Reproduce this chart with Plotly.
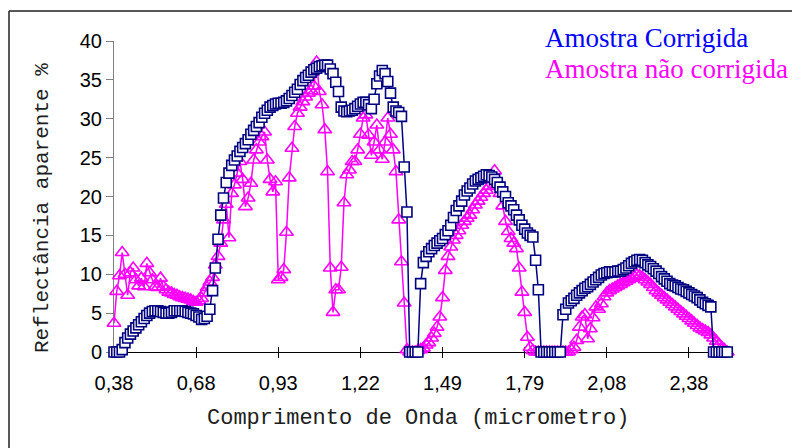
import plotly.graph_objects as go

# Category-axis tick labels (wavelength, micrometres), one label every 30 samples
tick_labels = ["0,38", "0,68", "0,93", "1,22", "1,49", "1,79", "2,08", "2,38"]
tick_step = 30

# Amostra Corrigida (reflectance %)
corrigida = [
    0, 0, 0, 0.3, 1.2, 1.8, 2.3, 2.7, 3.1, 3.5,
    3.9, 4.3, 4.7, 5.0, 5.2, 5.3, 5.3, 5.2, 5.1, 5.0,
    5.0, 5.1, 5.3, 5.3, 5.3, 5.3, 5.2, 5.1, 5.0, 4.9,
    4.7, 4.5, 4.2, 4.3, 4.6, 5.5, 7.9, 10.8, 14.5, 17.6,
    19.8, 21.8, 23.0, 24.0, 24.7, 25.2, 25.8, 26.3, 26.8, 27.3,
    28.0, 28.5, 29.0, 29.5, 30.2, 30.7, 31.1, 31.5, 31.7, 31.9,
    32.0, 32.0, 32.1, 32.3, 32.6, 33.0, 33.4, 33.8, 34.4, 34.9,
    35.3, 35.6, 36.0, 36.3, 36.5, 36.7, 36.8, 36.9, 36.9, 36.4,
    35.8, 34.7, 33.5, 31.5, 31.0, 30.9, 31.0, 31.1, 31.3, 31.6,
    31.9, 32.1, 32.1, 31.8, 31.3, 32.5, 34.5, 35.5, 36.2, 35.8,
    34.8, 33.3, 31.5, 31.0, 30.8, 30.3, 23.8, 18.0, 0, 0,
    0, 0, 8.8, 11.5, 12.3, 12.9, 13.3, 13.7, 14.0, 14.3,
    14.6, 15.1, 15.6, 16.3, 17.3, 18.2, 18.8, 19.4, 20.2, 20.7,
    21.1, 21.6, 22.0, 22.2, 22.4, 22.6, 22.8, 22.7, 22.5, 22.2,
    21.8, 21.2, 20.6, 20.0, 19.2, 18.8, 18.3, 17.6, 17.0, 16.3,
    15.8, 15.3, 15.0, 14.8, 11.8, 8.0, 0, 0, 0, 0,
    0, 0, 0, 0, 4.8, 5.5, 6.3, 6.6, 6.9, 7.3,
    7.6, 7.9, 8.2, 8.4, 8.7, 9.0, 9.3, 9.6, 9.9, 10.1,
    10.2, 10.3, 10.3, 10.3, 10.4, 10.4, 10.6, 10.8, 11.1, 11.4,
    11.6, 11.8, 11.9, 11.8, 11.5, 11.2, 11.0, 10.7, 10.4, 10.1,
    9.7, 9.4, 9.1, 8.8, 8.6, 8.5, 8.3, 8.1, 8.0, 7.8,
    7.6, 7.4, 7.2, 7.0, 6.7, 6.4, 6.2, 6.0, 5.8, 0,
    0, 0, 0, 0, 0,
]

# Amostra nao corrigida (reflectance %)
nao_corrigida = [
    3.7, 7.8, 9.8, 12.8, 10.0, 7.3, 10.2, 10.8, 9.3, 8.5,
    9.5, 8.4, 11.4, 10.2, 9.3, 8.4, 8.3, 9.5, 8.4, 8.0,
    7.7, 7.6, 7.4, 7.3, 7.1, 7.0, 6.9, 6.8, 6.7, 6.5,
    6.4, 6.6, 6.9, 7.6, 8.3, 9.0, 9.6, 11.2, 12.3, 14.0,
    17.0, 19.0, 14.7, 20.4, 21.5, 23.0, 24.5, 22.2, 18.7, 19.8,
    21.7, 24.7, 26.0, 27.0, 27.7, 28.3, 24.7, 22.2, 20.6, 21.9,
    9.3, 9.6, 10.6, 15.4, 22.4, 26.2, 29.0, 30.7, 31.5, 32.2,
    32.8, 33.3, 33.6, 34.2, 37.3, 33.5, 31.8, 28.6, 23.2, 10.8,
    5.1, 8.0, 8.0, 10.9, 19.2, 22.8, 23.4, 24.5, 24.5, 26.0,
    28.0, 30.1, 30.5, 27.9, 25.3, 27.0, 29.2, 26.0, 24.8, 27.0,
    30.1, 28.0, 26.0, 23.2, 17.0, 11.6, 6.3, 0.3, 0, 0,
    0, 0.2, 0.3, 0.5, 0.9, 1.2, 1.8, 2.4, 3.2, 4.5,
    7.0, 10.5, 12.3, 13.5, 14.4, 15.0, 15.6, 16.3, 16.8, 17.2,
    17.6, 18.3, 18.9, 19.4, 19.9, 20.4, 20.8, 21.3, 22.2, 23.3,
    21.5, 20.4, 18.8, 16.8, 15.5, 14.6, 14.0, 13.3, 10.8, 7.7,
    5.1, 1.9, 0.6, 0.2, 0, 0, 0, 0, 0, 0,
    0, 0, 0, 0, 0, 0, 0, 0.3, 0.6, 1.5,
    3.2, 4.5, 4.8, 1.7, 3.0, 4.4, 5.8, 5.5, 6.2, 7.1,
    7.6, 7.9, 8.1, 8.3, 8.5, 8.7, 8.9, 9.1, 9.3, 9.5,
    9.7, 9.9, 9.8, 9.6, 9.3, 9.0, 8.7, 8.3, 7.9, 7.6,
    7.3, 7.0, 6.7, 6.4, 6.1, 5.8, 5.5, 5.2, 4.9, 4.6,
    4.3, 4.0, 3.7, 3.4, 3.1, 2.9, 2.7, 2.5, 2.2, 1.8,
    1.4, 1.0, 0.6, 0.3, 0,
]

series_names = ["Amostra Corrigida", "Amostra não corrigida"]
x_title = "Comprimento de Onda (micrometro)"
y_title = "Reflectância aparente %"

idx = list(range(len(corrigida)))
tick_positions = [i * tick_step for i in range(len(tick_labels))]

NAVY = "#000080"
MAGENTA = "#ff00ff"
SANS = "Liberation Sans, Arial, sans-serif"
MONO = "Liberation Mono, Courier New, monospace"
SERIF = "Liberation Serif, Times New Roman, serif"

fig = go.Figure()
fig.add_trace(go.Scatter(
    x=idx, y=nao_corrigida, mode="lines+markers", name=series_names[1],
    line=dict(color=MAGENTA, width=1.5),
    marker=dict(symbol="triangle-up-open", size=12, color=MAGENTA, line=dict(width=1.6)),
    cliponaxis=False, showlegend=False,
))
fig.add_trace(go.Scatter(
    x=idx, y=corrigida, mode="lines+markers", name=series_names[0],
    line=dict(color=NAVY, width=1.5),
    marker=dict(symbol="square", size=10, color="white", line=dict(color=NAVY, width=1.6)),
    cliponaxis=False, showlegend=False,
))
# invisible trace to hold the inner half of the crossing x tick marks
fig.add_trace(go.Scatter(x=[0], y=[0], xaxis="x2", mode="markers",
                         marker=dict(opacity=0), hoverinfo="skip", showlegend=False))

L, R, T, B = 114, 62, 41, 96
W, H = 792, 448
pw, ph = W - L - R, H - T - B


def px_x(px):
    return (px - L) / pw


def px_y(py):
    return (H - B - py) / ph


xr = [0, len(corrigida)]
fig.update_layout(
    width=W, height=H,
    margin=dict(l=L, r=R, t=T, b=B),
    paper_bgcolor="white", plot_bgcolor="white",
    xaxis=dict(range=xr, tickvals=tick_positions, ticktext=tick_labels,
               ticks="outside", ticklen=5, tickcolor="black", tickwidth=1,
               ticklabelstandoff=8,
               showline=True, linecolor="black", linewidth=1,
               showgrid=False, zeroline=False, layer="below traces",
               tickfont=dict(family=SANS, size=20, color="black")),
    xaxis2=dict(range=xr, overlaying="x", anchor="y", side="bottom",
                tickvals=tick_positions, ticks="inside", ticklen=5,
                tickcolor="black", tickwidth=1, showticklabels=False,
                showline=False, showgrid=False, zeroline=False, layer="below traces"),
    yaxis=dict(range=[0, 40], dtick=5, ticks="outside", ticklen=7,
               tickcolor="#808080", tickwidth=1,
               showline=True, linecolor="#808080", linewidth=1,
               showgrid=False, zeroline=False, layer="below traces",
               tickfont=dict(family=SANS, size=20, color="black")),
    showlegend=False,
)

fig.add_annotation(text=x_title, xref="paper", yref="paper",
                   x=px_x(418), y=px_y(418), xanchor="center", yanchor="middle",
                   showarrow=False, font=dict(family=MONO, size=22, color="#202020"))
fig.add_annotation(text=y_title, xref="paper", yref="paper", textangle=-90,
                   x=px_x(42), y=px_y(208), xanchor="center", yanchor="middle",
                   showarrow=False, font=dict(family=MONO, size=21, color="#202020"))
fig.add_annotation(text=series_names[0], xref="paper", yref="paper",
                   x=px_x(543), y=px_y(38), xanchor="left", yanchor="middle",
                   showarrow=False, font=dict(family=SERIF, size=27, color="#0000ff"))
fig.add_annotation(text=series_names[1], xref="paper", yref="paper",
                   x=px_x(543), y=px_y(69), xanchor="left", yanchor="middle",
                   showarrow=False, font=dict(family=SERIF, size=27, color=MAGENTA))

# chart-area border (only top and left edges fall inside the picture)
fig.add_shape(type="line", xref="paper", yref="paper",
              x0=px_x(9), x1=px_x(800), y0=px_y(11), y1=px_y(11),
              line=dict(color="#202020", width=1.5))
fig.add_shape(type="line", xref="paper", yref="paper",
              x0=px_x(9), x1=px_x(9), y0=px_y(11), y1=px_y(460),
              line=dict(color="#202020", width=1.5))

fig.write_html("out.html", config={"displayModeBar": False},
               post_script="document.body.style.margin='0';")
